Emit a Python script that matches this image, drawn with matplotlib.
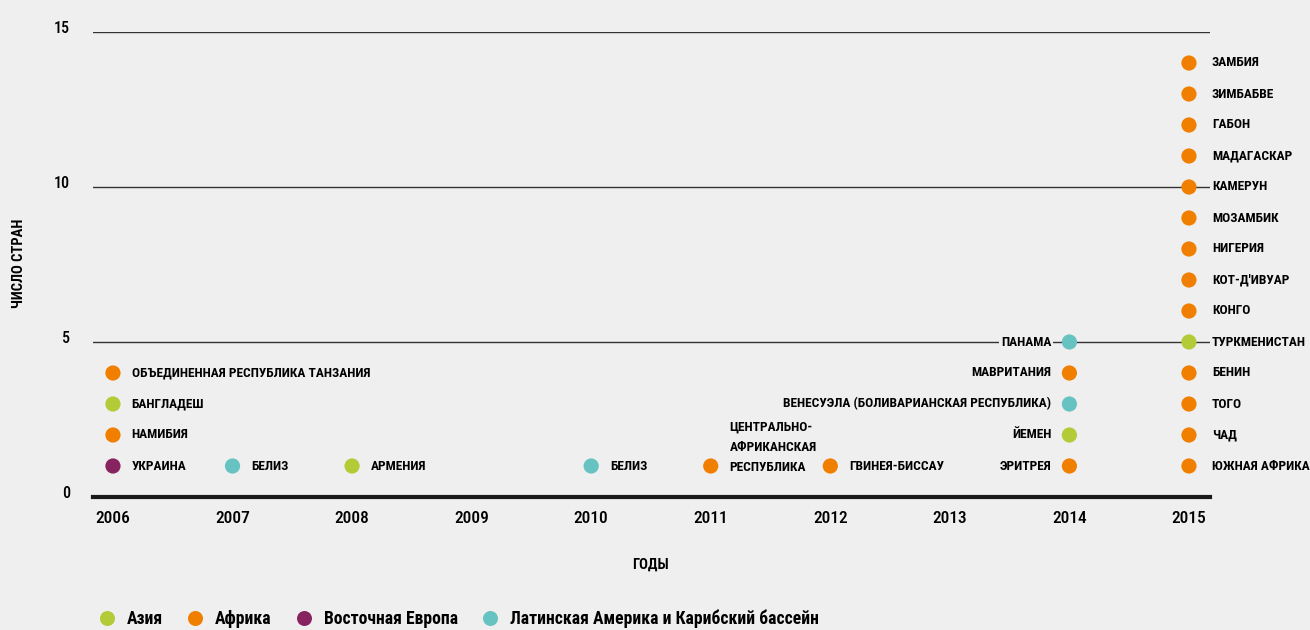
import numpy as np
import matplotlib.pyplot as plt
from matplotlib.lines import Line2D
from matplotlib import transforms, font_manager

# pick a narrow face if one is installed
installed = {f.name for f in font_manager.fontManager.ttflist}
narrow = [n for n in ['Liberation Sans Narrow', 'DejaVu Sans Condensed', 'Roboto Condensed']
          if n in installed]
plt.rcParams['font.family'] = narrow + ['DejaVu Sans']
plt.rcParams['font.stretch'] = 'condensed'

# Countries by year, listed bottom to top within each year
years = [2006, 2006, 2006, 2006,
         2007, 2008, 2010, 2011, 2012,
         2014, 2014, 2014, 2014, 2014,
         2015, 2015, 2015, 2015, 2015, 2015, 2015,
         2015, 2015, 2015, 2015, 2015, 2015, 2015]
countries = ['УКРАИНА', 'НАМИБИЯ', 'БАНГЛАДЕШ', 'ОБЪЕДИНЕННАЯ РЕСПУБЛИКА ТАНЗАНИЯ',
             'БЕЛИЗ', 'АРМЕНИЯ', 'БЕЛИЗ', 'ЦЕНТРАЛЬНО-\nАФРИКАНСКАЯ\nРЕСПУБЛИКА', 'ГВИНЕЯ-БИССАУ',
             'ЭРИТРЕЯ', 'ЙЕМЕН', 'ВЕНЕСУЭЛА (БОЛИВАРИАНСКАЯ РЕСПУБЛИКА)', 'МАВРИТАНИЯ', 'ПАНАМА',
             'ЮЖНАЯ АФРИКА', 'ЧАД', 'ТОГО', 'БЕНИН', 'ТУРКМЕНИСТАН', 'КОНГО', "КОТ-Д'ИВУАР",
             'НИГЕРИЯ', 'МОЗАМБИК', 'КАМЕРУН', 'МАДАГАСКАР', 'ГАБОН', 'ЗИМБАБВЕ', 'ЗАМБИЯ']
regions = ['Восточная Европа', 'Африка', 'Азия', 'Африка',
           'Латинская Америка и Карибский бассейн', 'Азия',
           'Латинская Америка и Карибский бассейн', 'Африка', 'Африка',
           'Африка', 'Азия', 'Латинская Америка и Карибский бассейн', 'Африка',
           'Латинская Америка и Карибский бассейн',
           'Африка', 'Африка', 'Африка', 'Африка', 'Азия', 'Африка', 'Африка',
           'Африка', 'Африка', 'Африка', 'Африка', 'Африка', 'Африка', 'Африка']

region_names = ['Азия', 'Африка', 'Восточная Европа', 'Латинская Америка и Карибский бассейн']
region_colors = ['#b3cb37', '#f07f00', '#87245f', '#67c3c1']
color_of = dict(zip(region_names, region_colors))

year_ticks = list(range(2006, 2016))
count_ticks = [0, 5, 10, 15]

# running count of countries per year gives the stack height
counts = []
seen = {}
for y in years:
    seen[y] = seen.get(y, 0) + 1
    counts.append(seen[y])

bg = '#efefef'
fig = plt.figure(figsize=(13.1, 6.3), dpi=100, facecolor=bg)
ax = fig.add_axes([93 / 1310, 133 / 630, 1117 / 1310, 465 / 630], facecolor=bg)
ax.set_xlim(2005.833, 2015.176)
ax.set_ylim(0, 15)

for v in count_ticks[1:]:
    ax.axhline(v, color='#333333', lw=1, zorder=1)
ax.axhline(0, color='#1a1a1a', lw=3, zorder=1, clip_on=False)

ax.scatter(years, counts, s=120, c=[color_of[r] for r in regions],
           linewidths=0, zorder=3, clip_on=False)

label_size = 9.6
for yr, n, name in zip(years, counts, countries):
    if yr == 2014:
        dx, ha = -13, 'right'
    elif yr == 2015:
        dx, ha = 16.5, 'left'
    else:
        dx, ha = 13.5, 'left'
    if '\n' in name:
        ax.annotate(name, (yr, n), xytext=(dx, -5.5), textcoords='offset points',
                    ha=ha, va='bottom', fontsize=label_size, fontweight='bold',
                    linespacing=1.7, zorder=4)
    else:
        ax.annotate(name, (yr, n), xytext=(dx, 0), textcoords='offset points',
                    ha=ha, va='center', fontsize=label_size, fontweight='bold', zorder=4,
                    bbox=dict(boxstyle='square,pad=0.15', fc=bg, ec='none'))

for s in ax.spines.values():
    s.set_visible(False)

ax.set_xticks(year_ticks)
ax.set_xticklabels([str(y) for y in year_ticks], fontsize=12.5, fontweight='medium')
ax.set_yticks(count_ticks)
ax.set_yticklabels([str(v) for v in count_ticks], fontsize=11.5, fontweight='medium')
ax.tick_params(length=0)
ax.tick_params(axis='x', pad=10)
ax.tick_params(axis='y', pad=16.5)
shift = transforms.ScaledTranslation(0, 3.5 / 72, fig.dpi_scale_trans)
for lab in ax.get_yticklabels():
    lab.set_transform(lab.get_transform() + shift)

fig.text(650 / 1310, 1 - 565 / 630, 'ГОДЫ', ha='center', va='center',
         fontsize=10.5, fontweight='bold')
fig.text(19 / 1310, 1 - 263 / 630, 'ЧИСЛО СТРАН', ha='center', va='center',
         rotation=90, fontsize=10.5, fontweight='bold')

handles = [Line2D([], [], ls='none', marker='o', ms=10.8, mec='none', mfc=c)
           for c in region_colors]
fig.legend(handles, region_names, loc='center left', bbox_to_anchor=(98 / 1310, 1 - 619 / 630),
           ncol=4, frameon=False, borderpad=0, borderaxespad=0,
           handlelength=1.0, handletextpad=0.65, columnspacing=1.3,
           prop={'weight': 'bold', 'size': 12.7})

fig.savefig('out.png', dpi=100, facecolor=bg)
